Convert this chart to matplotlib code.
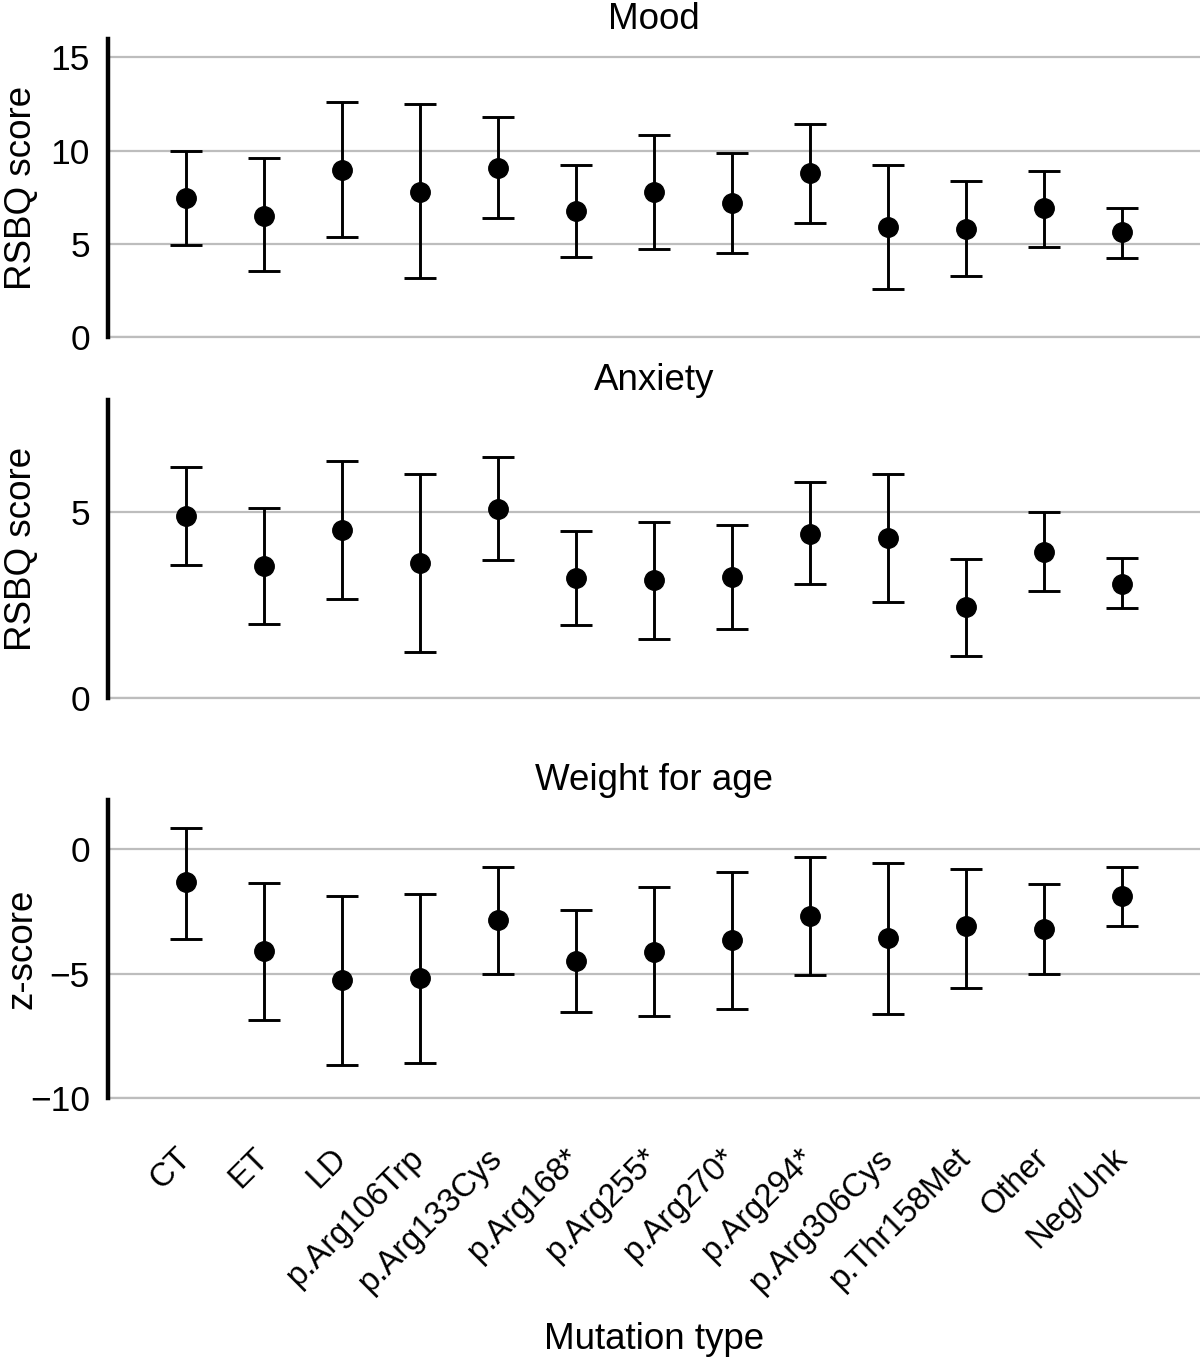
import numpy as np
import matplotlib
matplotlib.use("Agg")
import matplotlib.pyplot as plt

plt.rcParams['font.family'] = ['Liberation Sans', 'DejaVu Sans']

# --- datos ---
categories = ['CT', 'ET', 'LD', 'p.Arg106Trp', 'p.Arg133Cys', 'p.Arg168*',
              'p.Arg255*', 'p.Arg270*', 'p.Arg294*', 'p.Arg306Cys',
              'p.Thr158Met', 'Other', 'Neg/Unk']

mood_mean = [7.45, 6.48, 8.94, 7.77, 9.05, 6.75, 7.77, 7.18, 8.78, 5.89, 5.78, 6.91, 5.62]
mood_low = [4.93, 3.54, 5.36, 3.16, 6.37, 4.28, 4.71, 4.50, 6.10, 2.57, 3.27, 4.82, 4.23]
mood_high = [10.0, 9.59, 12.59, 12.48, 11.78, 9.21, 10.82, 9.86, 11.41, 9.21, 8.36, 8.89, 6.91]

anx_mean = [4.89, 3.53, 4.52, 3.61, 5.08, 3.21, 3.16, 3.24, 4.41, 4.30, 2.43, 3.93, 3.07]
anx_low = [3.58, 1.98, 2.65, 1.23, 3.69, 1.95, 1.58, 1.84, 3.07, 2.59, 1.12, 2.86, 2.41]
anx_high = [6.20, 5.11, 6.36, 6.02, 6.47, 4.47, 4.73, 4.65, 5.80, 6.02, 3.74, 5.00, 3.77]

wfa_mean = [-1.32, -4.08, -5.24, -5.16, -2.84, -4.48, -4.12, -3.64, -2.68, -3.56, -3.08, -3.20, -1.88]
wfa_low = [-3.60, -6.88, -8.68, -8.60, -5.00, -6.52, -6.72, -6.40, -5.04, -6.64, -5.56, -5.00, -3.08]
wfa_high = [0.88, -1.36, -1.88, -1.80, -0.72, -2.44, -1.52, -0.92, -0.32, -0.56, -0.80, -1.40, -0.72]

panels = [
    ('Mood', 'RSBQ score', mood_mean, mood_low, mood_high, (0, 16), [0, 5, 10, 15]),
    ('Anxiety', 'RSBQ score', anx_mean, anx_low, anx_high, (0, 8), [0, 5]),
    ('Weight for age', 'z-score', wfa_mean, wfa_low, wfa_high, (-10, 2), [-10, -5, 0]),
]

fig = plt.figure(figsize=(12, 13.65), dpi=100)
bottoms = [0.7531, 0.4886, 0.1956]
x = np.arange(len(categories))

for i, (title, ylab, m, lo, hi, ylim, yt) in enumerate(panels):
    ax = fig.add_axes([0.09, bottoms[i], 0.91, 0.2185])
    m = np.array(m); lo = np.array(lo); hi = np.array(hi)
    ax.errorbar(x, m, yerr=[m - lo, hi - m], fmt='o', color='black',
                ms=14, capsize=11.5, elinewidth=2.1, capthick=2.1, zorder=3)
    ax.set_xlim(-1, 13)
    ax.set_ylim(*ylim)
    ax.set_yticks(yt)
    ax.yaxis.grid(True, color='#bdbdbd', lw=1.6)
    ax.set_axisbelow(True)
    for s in ['top', 'right']:
        ax.spines[s].set_visible(False)
    ax.spines['bottom'].set_color('#bdbdbd')
    ax.spines['bottom'].set_linewidth(1.6)
    ax.spines['left'].set_linewidth(3.2)
    ax.spines['left'].set_zorder(5)
    ax.tick_params(axis='y', length=0, pad=13, labelsize=25.5)
    ax.tick_params(axis='x', length=0)
    ax.set_title(title, fontsize=26.5, pad=7)
    ax.set_ylabel(ylab, fontsize=26.5)
    ax.yaxis.set_label_coords(-0.063, 0.5)
    ax.set_xticks(x)
    if i < 2:
        ax.set_xticklabels([])
    else:
        ax.set_xticklabels(categories, rotation=45, ha='right', va='center',
                           rotation_mode='anchor', fontsize=23.5)
        ax.tick_params(axis='x', pad=40)

fig.text(0.545, 0.0185, 'Mutation type', ha='center', va='center', fontsize=26.5)

fig.savefig('out.png', dpi=100)
